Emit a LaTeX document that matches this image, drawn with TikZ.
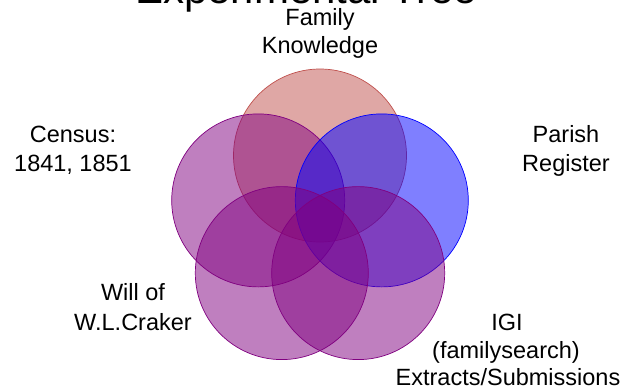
\documentclass[tikz,border=0pt]{standalone}
\usepackage{fontspec}
\setmainfont{Liberation Sans}
\usetikzlibrary{calc}
\definecolor{cred}{RGB}{192,80,77}
\definecolor{cpurple}{RGB}{128,0,128}
\definecolor{cblue}{RGB}{0,0,255}
\tikzset{
  venn/.style={fill opacity=0.5, line width=0.7pt},
  lbl/.style={anchor=base, inner sep=0pt, font=\fontsize{23.5}{28.5}\selectfont},
  ttl/.style={anchor=base, inner sep=0pt, font=\fontsize{42}{48}\selectfont}
}
\begin{document}
\begin{tikzpicture}[x=1pt,y=-1pt]
\useasboundingbox (0,0) rectangle (625,388);
\fill[white] (0,0) rectangle (625,388);
\coordinate (ctr) at (320,220.5);
% circles
\draw[venn, fill=cred, draw=cred] ($(ctr)+(0,-65)$) coordinate (cTop) circle[radius=86.5];
\draw[venn, fill=cpurple, draw=cpurple] ($(ctr)+(-61.8,-20.1)$) coordinate (cLeft) circle[radius=86.5];
\draw[venn, fill=cblue, draw=cblue] ($(ctr)+(61.8,-20.1)$) coordinate (cRight) circle[radius=86.5];
\draw[venn, fill=cpurple, draw=cpurple] ($(ctr)+(-38.2,52.6)$) coordinate (cBL) circle[radius=86.5];
\draw[venn, fill=cpurple, draw=cpurple] ($(ctr)+(38.2,52.6)$) coordinate (cBR) circle[radius=86.5];
% title
\node[ttl] (title) at (306,3) {Experimental Tree};
% labels
\node[lbl] (fam1) at (320,25) {Family};
\node[lbl] (fam2) at (320,53) {Knowledge};
\node[lbl] (cen1) at (73,142) {Census:};
\node[lbl] (cen2) at (73,171) {1841, 1851};
\node[lbl] (par1) at (566,142) {Parish};
\node[lbl] (par2) at (566,171) {Register};
\node[lbl] (wil1) at (133,300) {Will of};
\node[lbl] (wil2) at (133,330) {W.L.Craker};
\node[lbl] (igi1) at (507,330) {IGI};
\node[lbl] (igi2) at (506,358) {(familysearch)};
\node[lbl] (igi3) at (508,385) {Extracts/Submissions};
\end{tikzpicture}
\end{document}
